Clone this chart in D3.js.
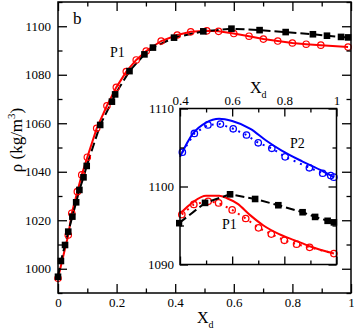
<!DOCTYPE html>
<html><head><meta charset="utf-8">
<script src="https://cdn.jsdelivr.net/npm/d3@7"></script>
<style>body{margin:0;background:#fff}svg{display:block}svg text{font-family:"Liberation Serif","Times New Roman",serif !important;fill:#000}</style>
</head><body><svg id="c" width="354" height="331"></svg>
<script>
// ---- data ----
const blackX = [0,0.01,0.024,0.035,0.049,0.062,0.073,0.087,0.098,0.144,0.184,0.195,0.244,0.295,0.324,0.396,0.496,0.592,0.688,0.777,0.87,0.918,0.966,0.99];
const blackY = [996.7,1003.2,1009.8,1015.3,1021.5,1027.4,1032.5,1037.7,1042.4,1059.3,1068.9,1071.9,1081.5,1088.4,1091.2,1095.3,1097.9,1099.0,1098.4,1097.6,1096.7,1096.1,1095.6,1095.4];
const redX = [0,0.035,0.047,0.066,0.081,0.1,0.132,0.167,0.199,0.233,0.267,0.301,0.352,0.407,0.453,0.508,0.548,0.6,0.652,0.701,0.75,0.8,0.847,0.897,0.99];
const redY = [996.1,1013.9,1022.9,1031.8,1038.7,1046.0,1057.9,1067.2,1074.8,1081.3,1086.1,1089.8,1093.9,1096.4,1097.7,1098.1,1097.9,1097.0,1095.9,1094.7,1093.9,1093.1,1092.6,1092.2,1091.4];
const redModelX = [0.4,0.45,0.5,0.55,0.58,0.62,0.67,0.72,0.78,0.84,0.9,0.99];
const redModelY = [1096.5,1098.0,1098.8,1098.8,1098.5,1097.8,1096.3,1095.0,1093.9,1093.1,1092.3,1091.4];
const blueX = [0.409,0.455,0.507,0.555,0.604,0.655,0.7,0.752,0.803,0.896,0.947,0.978,0.99];
const blueY = [1104.4,1106.8,1107.9,1108.0,1107.4,1106.6,1105.6,1104.9,1103.8,1102.4,1101.7,1101.4,1101.2];
const blueModelX = [0.4,0.45,0.5,0.55,0.6,0.67,0.73,0.79,0.87,0.945,0.99];
const blueModelY = [1103.8,1106.8,1108.2,1108.7,1108.4,1107.4,1105.9,1104.6,1103.2,1102.0,1101.2];
const mainXTicks = [0,0.2,0.4,0.6,0.8,1];
const mainYTicks = [1000,1020,1040,1060,1080,1100];
const insetXTicks = [0.4,0.6,0.8,1];
const insetYTicks = [1090,1100,1110];

const svg = d3.select("#c");
const zip = (a,b)=>a.map((v,i)=>[v,b[i]]);
const fmt = d=>d===0?"0":(d===1?"1":String(d));

// ---- main ----
const x = d3.scaleLinear().domain([0,1]).range([58,351]);
const y = d3.scaleLinear().domain([990,1110]).range([293,2]);

function axes(g, xs, ys, xt, xminor, yt, yminor, labelSide, maj, min) {
  const [x0,x1]=xs.range(), [y0,y1]=ys.range();
  const b = labelSide==="bottom";
  g.append("g").attr("transform",`translate(0,${y0})`).call(d3.axisBottom(xs).tickValues(xminor).tickSize(-min).tickFormat(""));
  g.append("g").attr("transform",`translate(0,${y0})`).call(d3.axisBottom(xs).tickValues(xt).tickSize(-maj).tickPadding(5).tickFormat(b?fmt:""));
  g.append("g").attr("transform",`translate(0,${y1})`).call(d3.axisTop(xs).tickValues(xminor).tickSize(-min).tickFormat(""));
  g.append("g").attr("transform",`translate(0,${y1})`).call(d3.axisTop(xs).tickValues(xt).tickSize(-maj).tickPadding(4).tickFormat(b?"":fmt));
  g.append("g").attr("transform",`translate(${x0},0)`).call(d3.axisLeft(ys).tickValues(yminor).tickSize(-min).tickFormat(""));
  g.append("g").attr("transform",`translate(${x0},0)`).call(d3.axisLeft(ys).tickValues(yt).tickSize(-maj).tickPadding(b?7:6).tickFormat(d3.format("d")));
  g.append("g").attr("transform",`translate(${x1},0)`).call(d3.axisRight(ys).tickValues(yminor).tickSize(-min).tickFormat(""));
  g.append("g").attr("transform",`translate(${x1},0)`).call(d3.axisRight(ys).tickValues(yt).tickSize(-maj).tickFormat(""));
  g.selectAll(".domain").remove();
  g.selectAll(".tick line").attr("stroke","#000").attr("stroke-width",1.3);
  g.selectAll(".tick text").attr("font-size",13);
  g.append("rect").attr("x",x0).attr("y",y1).attr("width",x1-x0).attr("height",y0-y1)
    .attr("fill","none").attr("stroke","#000").attr("stroke-width",1.5);
}

const main = svg.append("g");
const line = (xs,ys)=>d3.line().x(d=>xs(d[0])).y(d=>ys(d[1]));

main.append("path").datum(zip(redX,redY)).attr("d",line(x,y)).attr("fill","none").attr("stroke","#ff0000").attr("stroke-width",2);
main.append("path").datum(zip(blackX,blackY)).attr("d",line(x,y)).attr("fill","none").attr("stroke","#000").attr("stroke-width",2).attr("stroke-dasharray","9,4");
main.selectAll(".rc").data(zip(redX,redY)).join("circle").attr("cx",d=>x(d[0])).attr("cy",d=>y(d[1])).attr("r",3.2).attr("fill","none").attr("stroke","#ff0000").attr("stroke-width",1.2);
main.selectAll(".bs").data(zip(blackX,blackY)).join("rect").attr("x",d=>x(d[0])-3.3).attr("y",d=>y(d[1])-3.3).attr("width",6.6).attr("height",6.6).attr("fill","#000");
axes(main, x, y, mainXTicks, d3.range(0.1,1,0.2), mainYTicks, d3.range(990,1111,10).filter(v=>v%20!==0), "bottom", 9, 4.5);

main.append("text").attr("x",73).attr("y",24).attr("font-size",17).text("b");
main.append("text").attr("x",110).attr("y",57).attr("font-size",14).text("P1");
const xl = main.append("text").attr("x",197).attr("y",323).attr("font-size",16);
xl.append("tspan").text("X");
xl.append("tspan").attr("font-size",10).attr("dy",5).text("d");
const yl = main.append("text").attr("transform","translate(22,140) rotate(-90)").attr("text-anchor","middle").attr("font-size",17);
yl.append("tspan").text("ρ (kg/m");
yl.append("tspan").attr("font-size",11).attr("dy",-7).text("3");
yl.append("tspan").attr("dy",7).text(")");

// ---- inset ----
const xi = d3.scaleLinear().domain([0.4,1]).range([180,336.5]);
const yi = d3.scaleLinear().domain([1090,1110]).range([264.5,108.5]);
const ins = svg.append("g");
ins.append("rect").attr("x",180).attr("y",108.5).attr("width",156.5).attr("height",156).attr("fill","#fff");
ins.append("clipPath").attr("id","ic").append("rect").attr("x",176).attr("y",105).attr("width",164).attr("height",163);
const ic = ins.append("g").attr("clip-path","url(#ic)");
ic.append("path").datum(zip(blueModelX,blueModelY)).attr("d",line(xi,yi).curve(d3.curveMonotoneX)).attr("fill","none").attr("stroke","#0000ff").attr("stroke-width",2);
ic.append("path").datum(zip(blueX,blueY)).attr("d",line(xi,yi)).attr("fill","none").attr("stroke","#0000ff").attr("stroke-width",2).attr("stroke-dasharray","2,5");
ic.selectAll(".bc").data(zip(blueX,blueY)).join("circle").attr("cx",d=>xi(d[0])).attr("cy",d=>yi(d[1])).attr("r",3.2).attr("fill","none").attr("stroke","#0000ff").attr("stroke-width",1.3);
const redIn = zip(redX,redY).filter(d=>d[0]>=0.4);
ic.append("path").datum(zip(redModelX,redModelY)).attr("d",line(xi,yi).curve(d3.curveMonotoneX)).attr("fill","none").attr("stroke","#ff0000").attr("stroke-width",2);
ic.append("path").datum(redIn).attr("d",line(xi,yi)).attr("fill","none").attr("stroke","#ff0000").attr("stroke-width",2).attr("stroke-dasharray","2,5");
ic.selectAll(".rc2").data(redIn).join("circle").attr("cx",d=>xi(d[0])).attr("cy",d=>yi(d[1])).attr("r",3.2).attr("fill","none").attr("stroke","#ff0000").attr("stroke-width",1.3);
const blackIn = zip(blackX,blackY).filter(d=>d[0]>=0.39);
ic.append("path").datum(blackIn).attr("d",line(xi,yi)).attr("fill","none").attr("stroke","#000").attr("stroke-width",2).attr("stroke-dasharray","9,4");
ic.selectAll(".bs2").data(blackIn).join("rect").attr("x",d=>xi(d[0])-3.3).attr("y",d=>yi(d[1])-3.3).attr("width",6.6).attr("height",6.6).attr("fill","#000");
axes(ins, xi, yi, insetXTicks, [0.5,0.7,0.9], insetYTicks, [1095,1105], "top", 8, 4);
ins.append("text").attr("x",290).attr("y",148).attr("font-size",14).text("P2");
ins.append("text").attr("x",222).attr("y",229).attr("font-size",14).text("P1");
const xl2 = ins.append("text").attr("x",250).attr("y",93).attr("font-size",16);
xl2.append("tspan").text("X");
xl2.append("tspan").attr("font-size",10).attr("dy",5).text("d");
</script></body></html>
